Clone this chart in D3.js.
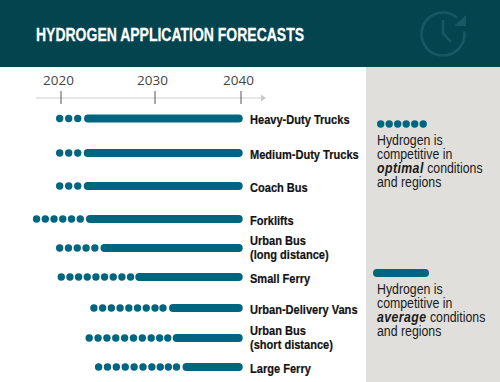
<!DOCTYPE html>
<html>
<head>
<meta charset="utf-8">
<script src="https://cdn.jsdelivr.net/npm/d3@7"></script>
<style>
  html, body { margin: 0; padding: 0; background: #fff; }
  svg { display: block; }
  text { font-family: "Liberation Sans", sans-serif; }
</style>
</head>
<body>
<svg id="chart" width="500" height="382"></svg>
<script>
// values (years)
var categories = ['Heavy-Duty Trucks', 'Medium-Duty Trucks', 'Coach Bus', 'Forklifts',
  'Urban Bus|(long distance)', 'Small Ferry', 'Urban-Delivery Vans', 'Urban Bus|(short distance)', 'Large Ferry'];
var dotFirst = [2019.86, 2019.86, 2019.86, 2017.4, 2019.86, 2020.03, 2023.5, 2023.0, 2024.0];
var dotLast  = [2021.78, 2021.78, 2021.78, 2022.05, 2023.6, 2027.4, 2030.93, 2031.48, 2032.5];
var dotCount = [3, 3, 3, 6, 5, 9, 9, 10, 10];
var barStart = [2022.45, 2022.42, 2022.42, 2022.66, 2024.2, 2027.9, 2031.63, 2032.06, 2033.2];
var barEnd   = [2040.2, 2040.2, 2040.2, 2040.2, 2040.2, 2040.2, 2040.2, 2040.2, 2040.2];
var tickYears = [2020, 2030, 2040];
var legendOptimal = ['Hydrogen is', 'competitive in', '*optimal* conditions', 'and regions'];
var legendAverage = ['Hydrogen is', 'competitive in', '*average* conditions', 'and regions'];

var teal = '#00667f', header = '#03444f', panel = '#e0dfdb';

var svg = d3.select('#chart');

// the axis in the picture is not evenly spaced
var x = d3.scaleLinear().domain(tickYears).range([61, 155, 241]);
var rowY = d3.scaleOrdinal().domain(categories).range([118.5, 153, 186, 219, 248, 277, 308, 338, 367]);

// no condensed font installed, so squeeze the text sideways
function squeezed(parent, px, py, sx) {
  return parent.append('text').attr('transform', 'translate(' + px + ',' + py + ') scale(' + sx + ',1)');
}

svg.append('rect').attr('x', 366).attr('y', 67).attr('width', 134).attr('height', 315).attr('fill', panel);
svg.append('rect').attr('width', 500).attr('height', 67).attr('fill', header);

squeezed(svg, 36, 41, 0.8)
  .attr('font-size', 17.5).attr('font-weight', 700).attr('fill', '#fff')
  .attr('stroke', '#fff').attr('stroke-width', 0.25)
  .text('HYDROGEN APPLICATION FORECASTS');

// clock icon in the header
var icon = svg.append('g').attr('fill', 'none').attr('stroke', '#1a5764').attr('stroke-width', 2.6);
icon.append('path').attr('d', d3.arc()({ innerRadius: 21.5, outerRadius: 21.5, startAngle: 1.45, endAngle: 2 * Math.PI + 0.72 }))
  .attr('transform', 'translate(443,34)');
icon.append('path').attr('d', 'M443,20V33L451,42');
svg.append('path').attr('d', 'M454,26L466,26L466,15Z').attr('fill', '#1a5764');

// axis
var axis = svg.append('g').attr('transform', 'translate(0,98)');
axis.append('line').attr('x1', 36).attr('x2', 262).attr('stroke', '#e6e6e6').attr('stroke-width', 2);
axis.append('path').attr('d', 'M261,-3.5L266,0L261,3.5Z').attr('fill', '#c9c9c9');
axis.selectAll('.tick').data(tickYears).join('line')
  .attr('class', 'tick')
  .attr('x1', x).attr('x2', x).attr('y1', -7).attr('y2', 6)
  .attr('stroke', '#555').attr('stroke-width', 1);
axis.selectAll('.year').data(tickYears).join('text')
  .attr('class', 'year')
  .attr('x', function(d) { return x(d) - 2.5; }).attr('y', -13)
  .attr('text-anchor', 'middle')
  .style('font-family', '"Open Sans", sans-serif')
  .attr('font-size', 13.5).attr('fill', '#444')
  .text(function(d) { return d; });

// rows
var rows = svg.selectAll('.row').data(categories).join('g')
  .attr('class', 'row')
  .attr('transform', function(d) { return 'translate(0,' + rowY(d) + ')'; });

rows.append('rect')
  .attr('x', function(d, i) { return x(barStart[i]); })
  .attr('y', -4)
  .attr('width', function(d, i) { return x(barEnd[i]) - x(barStart[i]); })
  .attr('height', 8).attr('rx', 4).attr('fill', teal);

rows.each(function(d, i) {
  var step = dotCount[i] > 1 ? (dotLast[i] - dotFirst[i]) / (dotCount[i] - 1) : 0;
  d3.select(this).selectAll('circle').data(d3.range(dotCount[i])).join('circle')
    .attr('cx', function(k) { return x(dotFirst[i] + k * step); })
    .attr('r', 3.7).attr('fill', teal);
});

rows.each(function(d) {
  var lines = d.split('|');
  var g = d3.select(this);
  lines.forEach(function(s, k) {
    squeezed(g, 250, lines.length > 1 ? k * 13.5 - 3 : 5.5, 0.82)
      .attr('font-size', 13.5).attr('font-weight', 700).attr('fill', '#111')
      .attr('stroke', '#111').attr('stroke-width', 0.2)
      .text(s);
  });
});

// legend
function legendText(lines, top) {
  lines.forEach(function(s, k) {
    var t = squeezed(svg, 377, top + k * 14, 0.85).attr('font-size', 14.5).attr('fill', '#1a1a1a');
    s.split('*').forEach(function(part, j) {
      if (!part) return;
      var p = t.append('tspan').text(part);
      if (j % 2) p.attr('font-weight', 700).attr('font-style', 'italic').attr('letter-spacing', 0.5);
    });
  });
}

svg.selectAll('.legdot').data(d3.range(6)).join('circle')
  .attr('class', 'legdot')
  .attr('cx', function(k) { return 380.7 + k * 8.5; }).attr('cy', 124).attr('r', 3.7).attr('fill', teal);
legendText(legendOptimal, 145);

svg.append('rect').attr('x', 373).attr('y', 269).attr('width', 56).attr('height', 8).attr('rx', 4).attr('fill', teal);
legendText(legendAverage, 294);
</script>
</body>
</html>
